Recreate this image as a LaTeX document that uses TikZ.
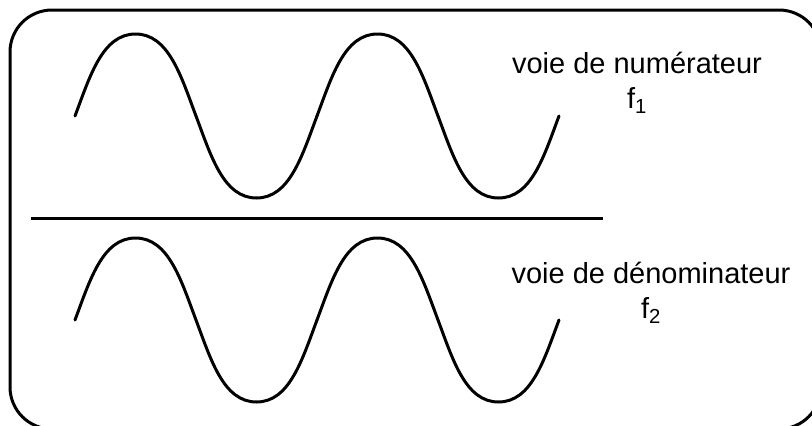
\documentclass[tikz,border=0pt]{standalone}
\usepackage{fontspec}
\setmainfont{Liberation Sans}
\usetikzlibrary{positioning}

\begin{document}
\begin{tikzpicture}[x=1pt, y=-1pt,
    wave/.style={line width=3pt, line cap=round},
    chan/.style={font=\fontsize{29}{35}\selectfont, align=center, inner sep=0pt},
    pics/period/.style={code={
      \draw[wave] (0,0) .. controls (15,-40) and (27.5,-82) .. (60.5,-82)
        .. controls (93.5,-82) and (106,-40) .. (121,0)
        .. controls (136,40) and (148.5,82) .. (181.5,82)
        .. controls (214.5,82) and (227,40) .. (242,0);}},
]
\useasboundingbox (0,0) rectangle (812,426);
\clip (0,0) rectangle (812,426);
% cadre
\draw[line width=3pt, rounded corners=42pt] (10,10) rectangle (821,429);

% voie du haut
\foreach \k in {0,1}
  \pic at ({75+242*\k},116) {period};
\node[chan] (num) at (637,83) {voie de numérateur\\f\textsubscript{1}};

% barre de fraction
\coordinate (barl) at (31,218);
\coordinate (barr) at (603,218);
\draw[line width=3pt] (barl) -- (barr);

% voie du bas
\foreach \k in {0,1}
  \pic at ({75+242*\k},320) {period};
\node[chan] (den) at (651,293) {voie de dénominateur\\f\textsubscript{2}};
\end{tikzpicture}
\end{document}
